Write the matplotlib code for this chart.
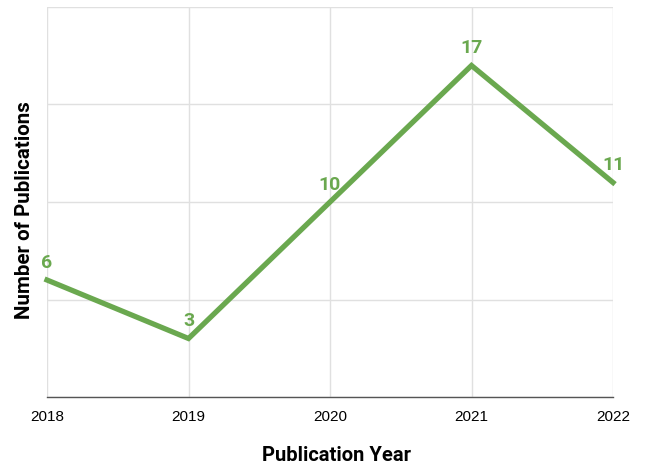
import matplotlib
matplotlib.use("Agg")
import matplotlib.pyplot as plt

years = [2018, 2019, 2020, 2021, 2022]
counts = [6, 3, 10, 17, 11]
year_labels = ["2018", "2019", "2020", "2021", "2022"]

green = "#6aa84f"

fig = plt.figure(figsize=(6.45, 4.65), dpi=100)
ax = fig.add_axes([47 / 645, 1 - 397 / 465, (613 - 47) / 645, (397 - 7) / 465])

ax.plot(years, counts, color=green, linewidth=3.8, solid_joinstyle="miter", zorder=3, clip_on=False)
for x, y in zip(years, counts):
    ax.annotate(str(y), (x, y), xytext=(0, 6), textcoords="offset points",
                ha="center", va="bottom", color=green, fontsize=14,
                fontweight="bold", family="Roboto")

ax.set_xlim(2018, 2022)
ax.set_ylim(0, 20)
ax.set_xticks(years)
ax.set_xticklabels(year_labels, family="Liberation Sans", fontsize=11)
ax.set_yticks([0, 5, 10, 15, 20])
ax.set_yticklabels([])
ax.tick_params(length=0, pad=9)
ax.grid(True, color="#e0e0e0", linewidth=1)
ax.set_axisbelow(True)
for side in ["left", "right", "top"]:
    ax.spines[side].set_visible(False)
ax.spines["bottom"].set_color("#555555")
ax.spines["bottom"].set_linewidth(1)

fig.text(336 / 645, 1 - 455 / 465, "Publication Year",
         ha="center", va="center", family="Roboto", fontweight="bold", fontsize=14.5)
fig.text(25 / 645, 1 - 210 / 465, "Number of Publications", rotation=90,
         ha="center", va="center", family="Roboto", fontweight="bold", fontsize=14.8)

fig.savefig("out.png", dpi=100)
